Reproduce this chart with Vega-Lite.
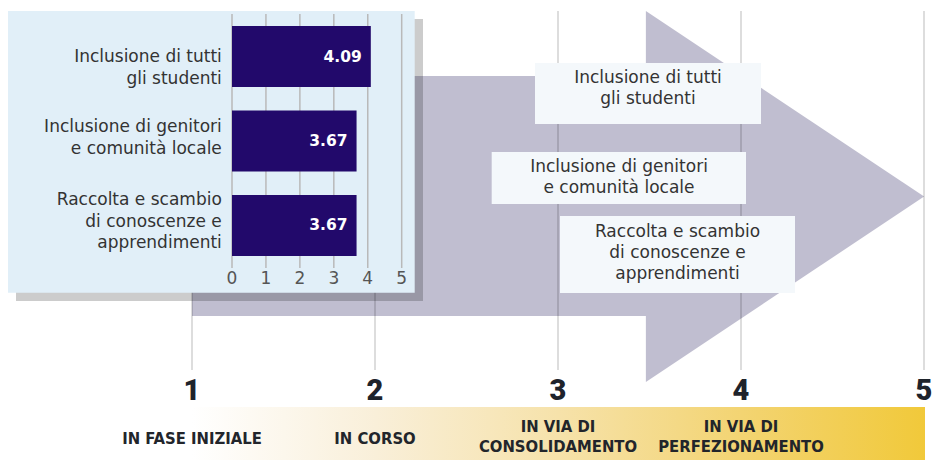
{
  "$schema": "https://vega.github.io/schema/vega-lite/v6.json",
  "width": 934,
  "height": 460,
  "autosize": {"type": "none"},
  "padding": 0,
  "background": "#ffffff",
  "config": {"view": {"stroke": null}, "text": {"font": "DejaVu Sans"}},
  "datasets": {
    "levels": [
      {"level": 1, "stage": "IN FASE INIZIALE"},
      {"level": 2, "stage": "IN CORSO"},
      {"level": 3, "stage": "IN VIA DI\nCONSOLIDAMENTO"},
      {"level": 4, "stage": "IN VIA DI\nPERFEZIONAMENTO"},
      {"level": 5, "stage": ""}
    ],
    "areas": [
      {"key": 1, "area": "Inclusione di tutti\ngli studenti", "score": 4.09},
      {"key": 2, "area": "Inclusione di genitori\ne comunità locale", "score": 3.67},
      {"key": 3, "area": "Raccolta e scambio\ndi conoscenze e\napprendimenti", "score": 3.67}
    ],
    "ticks": [{"v": 0}, {"v": 1}, {"v": 2}, {"v": 3}, {"v": 4}, {"v": 5}]
  },
  "resolve": {"scale": {"x": "independent", "y": "independent"}},
  "layer": [
    {
      "layer": [
        {
          "data": {"values": [{}]},
          "mark": {"type": "rect", "color": "#c0bed0"},
          "encoding": {
            "x": {"datum": 1, "type": "quantitative", "scale": {"domain": [-0.04918, 5.05465], "nice": false, "zero": false}, "axis": null},
            "x2": {"datum": 3.4809},
            "y": {"datum": 76, "type": "quantitative", "scale": {"domain": [0, 460], "reverse": true, "nice": false, "zero": false}, "axis": null},
            "y2": {"datum": 316}
          }
        },
        {
          "data": {"values": [{}]},
          "mark": {"type": "point", "filled": true, "opacity": 1, "color": "#c0bed0", "strokeWidth": 0, "size": 137641, "shape": "M -0.75 -1 L 0.75 0 L -0.75 1 Z"},
          "encoding": {
            "x": {"datum": 4.24044, "type": "quantitative", "scale": {"domain": [-0.04918, 5.05465], "nice": false, "zero": false}, "axis": null},
            "y": {"datum": 196.5, "type": "quantitative", "scale": {"domain": [0, 460], "reverse": true, "nice": false, "zero": false}, "axis": null}
          }
        },
        {
          "data": {"name": "levels"},
          "mark": {"type": "rule", "color": "#000000", "opacity": 0.17, "strokeWidth": 1.6},
          "encoding": {
            "x": {"field": "level", "type": "quantitative", "scale": {"domain": [-0.04918, 5.05465], "nice": false, "zero": false}, "axis": null},
            "y": {"datum": 11, "type": "quantitative", "scale": {"domain": [0, 460], "reverse": true, "nice": false, "zero": false}, "axis": null},
            "y2": {"datum": 370}
          }
        },
        {
          "data": {"values": [{}]},
          "mark": {"type": "rect", "color": "#000000", "opacity": 0.2},
          "encoding": {
            "x": {"datum": 0.03825, "type": "quantitative", "scale": {"domain": [-0.04918, 5.05465], "nice": false, "zero": false}, "axis": null},
            "x2": {"datum": 2.2623},
            "y": {"datum": 19, "type": "quantitative", "scale": {"domain": [0, 460], "reverse": true, "nice": false, "zero": false}, "axis": null},
            "y2": {"datum": 301}
          }
        },
        {
          "data": {"values": [{}]},
          "mark": {"type": "rect", "color": "#e1eff8", "opacity": 1},
          "encoding": {
            "x": {"datum": -0.00546, "type": "quantitative", "scale": {"domain": [-0.04918, 5.05465], "nice": false, "zero": false}, "axis": null},
            "x2": {"datum": 2.21694},
            "y": {"datum": 11, "type": "quantitative", "scale": {"domain": [0, 460], "reverse": true, "nice": false, "zero": false}, "axis": null},
            "y2": {"datum": 292.7}
          }
        },
        {
          "data": {"name": "levels"},
          "mark": {"type": "text", "font": "Roboto", "fontWeight": 900, "fontSize": 29, "color": "#1e232b", "baseline": "middle", "align": "center"},
          "encoding": {
            "x": {"field": "level", "type": "quantitative", "scale": {"domain": [-0.04918, 5.05465], "nice": false, "zero": false}, "axis": null},
            "y": {"datum": 391, "type": "quantitative", "scale": {"domain": [0, 460], "reverse": true, "nice": false, "zero": false}, "axis": null},
            "text": {"field": "level", "type": "nominal"}
          }
        },
        {
          "data": {"values": [{}]},
          "mark": {
            "type": "rect",
            "color": {
              "gradient": "linear", "x1": 0, "y1": 0, "x2": 1, "y2": 0,
              "stops": [
                {"offset": 0, "color": "#ffffff"},
                {"offset": 0.25, "color": "#f9efd9"},
                {"offset": 0.5, "color": "#f6e2aa"},
                {"offset": 0.75, "color": "#f3d472"},
                {"offset": 1, "color": "#f1c93a"}
              ]
            }
          },
          "encoding": {
            "x": {"datum": 1, "type": "quantitative", "scale": {"domain": [-0.04918, 5.05465], "nice": false, "zero": false}, "axis": null},
            "x2": {"datum": 5.00546},
            "y": {"datum": 407, "type": "quantitative", "scale": {"domain": [0, 460], "reverse": true, "nice": false, "zero": false}, "axis": null},
            "y2": {"datum": 460}
          }
        },
        {
          "data": {"name": "levels"},
          "transform": [{"filter": "datum.level <= 2"}],
          "mark": {"type": "text", "font": "Liberation Sans Narrow, DejaVu Sans Condensed, sans-serif", "fontWeight": "bold", "fontSize": 16.5, "color": "#22252b", "baseline": "middle", "align": "center"},
          "encoding": {
            "x": {"field": "level", "type": "quantitative", "scale": {"domain": [-0.04918, 5.05465], "nice": false, "zero": false}, "axis": null},
            "y": {"datum": 438.5, "type": "quantitative", "scale": {"domain": [0, 460], "reverse": true, "nice": false, "zero": false}, "axis": null},
            "text": {"field": "stage", "type": "nominal"}
          }
        },
        {
          "data": {"name": "levels"},
          "transform": [{"filter": "datum.level >= 3"}],
          "mark": {"type": "text", "font": "Liberation Sans Narrow, DejaVu Sans Condensed, sans-serif", "fontWeight": "bold", "fontSize": 16.5, "color": "#22252b", "baseline": "middle", "align": "center", "lineBreak": "\n", "lineHeight": 20.5},
          "encoding": {
            "x": {"field": "level", "type": "quantitative", "scale": {"domain": [-0.04918, 5.05465], "nice": false, "zero": false}, "axis": null},
            "y": {"datum": 426.5, "type": "quantitative", "scale": {"domain": [0, 460], "reverse": true, "nice": false, "zero": false}, "axis": null},
            "text": {"field": "stage", "type": "nominal"}
          }
        },
        {
          "data": {"values": [{}]},
          "mark": {"type": "rect", "color": "#f4f8fb"},
          "encoding": {
            "x": {"datum": 2.87432, "type": "quantitative", "scale": {"domain": [-0.04918, 5.05465], "nice": false, "zero": false}, "axis": null},
            "x2": {"datum": 4.10929},
            "y": {"datum": 63, "type": "quantitative", "scale": {"domain": [0, 460], "reverse": true, "nice": false, "zero": false}, "axis": null},
            "y2": {"datum": 124}
          }
        },
        {
          "data": {"values": [{}]},
          "mark": {"type": "rect", "color": "#f4f8fb"},
          "encoding": {
            "x": {"datum": 2.6377, "type": "quantitative", "scale": {"domain": [-0.04918, 5.05465], "nice": false, "zero": false}, "axis": null},
            "x2": {"datum": 4.02732},
            "y": {"datum": 152, "type": "quantitative", "scale": {"domain": [0, 460], "reverse": true, "nice": false, "zero": false}, "axis": null},
            "y2": {"datum": 204}
          }
        },
        {
          "data": {"values": [{}]},
          "mark": {"type": "rect", "color": "#f4f8fb"},
          "encoding": {
            "x": {"datum": 3.01093, "type": "quantitative", "scale": {"domain": [-0.04918, 5.05465], "nice": false, "zero": false}, "axis": null},
            "x2": {"datum": 4.29508},
            "y": {"datum": 216, "type": "quantitative", "scale": {"domain": [0, 460], "reverse": true, "nice": false, "zero": false}, "axis": null},
            "y2": {"datum": 293}
          }
        },
        {
          "data": {"name": "areas"},
          "transform": [{"filter": "datum.key == 1"}],
          "mark": {"type": "text", "fontSize": 17, "color": "#333333", "baseline": "middle", "align": "center", "lineBreak": "\n", "lineHeight": 21.3},
          "encoding": {
            "x": {"datum": 3.49164, "type": "quantitative", "scale": {"domain": [-0.04918, 5.05465], "nice": false, "zero": false}, "axis": null},
            "y": {"datum": 78, "type": "quantitative", "scale": {"domain": [0, 460], "reverse": true, "nice": false, "zero": false}, "axis": null},
            "text": {"field": "area", "type": "nominal"}
          }
        },
        {
          "data": {"name": "areas"},
          "transform": [{"filter": "datum.key == 2"}],
          "mark": {"type": "text", "fontSize": 17, "color": "#333333", "baseline": "middle", "align": "center", "lineBreak": "\n", "lineHeight": 21.3},
          "encoding": {
            "x": {"datum": 3.33333, "type": "quantitative", "scale": {"domain": [-0.04918, 5.05465], "nice": false, "zero": false}, "axis": null},
            "y": {"datum": 166.7, "type": "quantitative", "scale": {"domain": [0, 460], "reverse": true, "nice": false, "zero": false}, "axis": null},
            "text": {"field": "area", "type": "nominal"}
          }
        },
        {
          "data": {"name": "areas"},
          "transform": [{"filter": "datum.key == 3"}],
          "mark": {"type": "text", "fontSize": 17, "color": "#333333", "baseline": "middle", "align": "center", "lineBreak": "\n", "lineHeight": 21.3},
          "encoding": {
            "x": {"datum": 3.653, "type": "quantitative", "scale": {"domain": [-0.04918, 5.05465], "nice": false, "zero": false}, "axis": null},
            "y": {"datum": 231.7, "type": "quantitative", "scale": {"domain": [0, 460], "reverse": true, "nice": false, "zero": false}, "axis": null},
            "text": {"field": "area", "type": "nominal"}
          }
        }
      ]
    },
    {
      "data": {"name": "ticks"},
      "layer": [
        {
          "mark": {"type": "rule", "color": "#b9b9b9", "strokeWidth": 1.5},
          "encoding": {
            "x": {"field": "v", "type": "quantitative", "scale": {"domain": [0, 5], "range": [232, 401.7], "nice": false, "zero": false}, "axis": null},
            "y": {"datum": 14, "type": "quantitative", "scale": {"domain": [0, 460], "reverse": true, "nice": false, "zero": false}, "axis": null},
            "y2": {"datum": 268}
          }
        },
        {
          "mark": {"type": "text", "fontSize": 17, "color": "#555555", "baseline": "middle", "align": "center"},
          "encoding": {
            "x": {"field": "v", "type": "quantitative", "scale": {"domain": [0, 5], "range": [232, 401.7], "nice": false, "zero": false}, "axis": null},
            "y": {"datum": 279, "type": "quantitative", "scale": {"domain": [0, 460], "reverse": true, "nice": false, "zero": false}, "axis": null},
            "text": {"field": "v", "type": "nominal"}
          }
        }
      ]
    },
    {
      "data": {"name": "areas"},
      "layer": [
        {
          "mark": {"type": "bar", "color": "#22096b"},
          "encoding": {
            "x": {"field": "score", "type": "quantitative", "scale": {"domain": [0, 5], "range": [232, 401.7], "nice": false, "zero": true}, "axis": null},
            "y": {"field": "area", "type": "nominal", "sort": null, "scale": {"range": [14, 268], "paddingInner": 0.278, "paddingOuter": 0.142}, "axis": null}
          }
        },
        {
          "mark": {"type": "text", "fontSize": 15.5, "fontWeight": "bold", "color": "#ffffff", "baseline": "middle", "align": "right", "dx": -9},
          "encoding": {
            "x": {"field": "score", "type": "quantitative", "scale": {"domain": [0, 5], "range": [232, 401.7], "nice": false, "zero": true}, "axis": null},
            "y": {"field": "area", "type": "nominal", "sort": null, "axis": null},
            "text": {"field": "score", "type": "quantitative", "format": ".2f"}
          }
        },
        {
          "transform": [{"filter": "datum.key == 1"}],
          "mark": {"type": "text", "fontSize": 17, "color": "#333333", "baseline": "middle", "align": "right", "lineBreak": "\n", "lineHeight": 21.5, "dy": 0.5},
          "encoding": {
            "x": {"datum": -0.3, "type": "quantitative", "axis": null},
            "y": {"field": "area", "type": "nominal", "sort": null, "axis": null},
            "text": {"field": "area", "type": "nominal"}
          }
        },
        {
          "transform": [{"filter": "datum.key == 2"}],
          "mark": {"type": "text", "fontSize": 17, "color": "#333333", "baseline": "middle", "align": "right", "lineBreak": "\n", "lineHeight": 21.5, "dy": -14},
          "encoding": {
            "x": {"datum": -0.3, "type": "quantitative", "axis": null},
            "y": {"field": "area", "type": "nominal", "sort": null, "axis": null},
            "text": {"field": "area", "type": "nominal"}
          }
        },
        {
          "transform": [{"filter": "datum.key == 3"}],
          "mark": {"type": "text", "fontSize": 17, "color": "#333333", "baseline": "middle", "align": "right", "lineBreak": "\n", "lineHeight": 21.5, "dy": -25},
          "encoding": {
            "x": {"datum": -0.3, "type": "quantitative", "axis": null},
            "y": {"field": "area", "type": "nominal", "sort": null, "axis": null},
            "text": {"field": "area", "type": "nominal"}
          }
        }
      ]
    }
  ]
}
